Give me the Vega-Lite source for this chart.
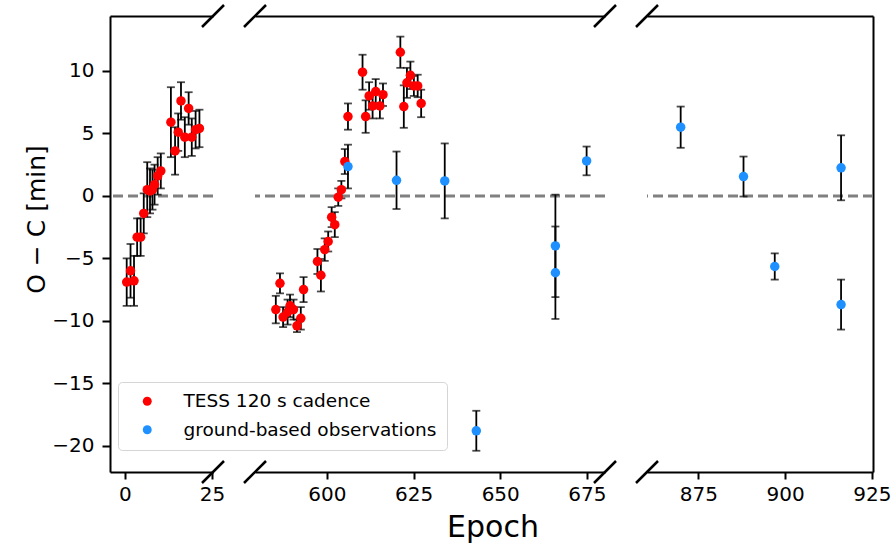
{
  "$schema": "https://vega.github.io/schema/vega-lite/v6.json",
  "padding": {"left": 24, "top": 0, "right": 5, "bottom": 5},
  "autosize": {"type": "pad"},
  "bounds": "flush",
  "spacing": 42,
  "datasets": {
    "p1": [
      {"epoch": 0.5, "oc": -6.9, "err": 1.9, "source": "TESS 120 s cadence"},
      {"epoch": 1.6, "oc": -6.0, "err": 2.15, "source": "TESS 120 s cadence"},
      {"epoch": 2.6, "oc": -6.8, "err": 2.0, "source": "TESS 120 s cadence"},
      {"epoch": 3.5, "oc": -3.3, "err": 1.5, "source": "TESS 120 s cadence"},
      {"epoch": 4.5, "oc": -3.3, "err": 1.5, "source": "TESS 120 s cadence"},
      {"epoch": 5.4, "oc": -1.4, "err": 1.6, "source": "TESS 120 s cadence"},
      {"epoch": 6.4, "oc": 0.5, "err": 2.2, "source": "TESS 120 s cadence"},
      {"epoch": 7.2, "oc": 0.4, "err": 1.8, "source": "TESS 120 s cadence"},
      {"epoch": 7.9, "oc": 0.5, "err": 1.6, "source": "TESS 120 s cadence"},
      {"epoch": 8.5, "oc": 0.9, "err": 1.6, "source": "TESS 120 s cadence"},
      {"epoch": 9.4, "oc": 1.6, "err": 1.5, "source": "TESS 120 s cadence"},
      {"epoch": 10.3, "oc": 2.0, "err": 1.4, "source": "TESS 120 s cadence"},
      {"epoch": 13.2, "oc": 5.9, "err": 2.8, "source": "TESS 120 s cadence"},
      {"epoch": 14.4, "oc": 3.6, "err": 1.9, "source": "TESS 120 s cadence"},
      {"epoch": 15.3, "oc": 5.1, "err": 1.5, "source": "TESS 120 s cadence"},
      {"epoch": 16.1, "oc": 7.6, "err": 1.5, "source": "TESS 120 s cadence"},
      {"epoch": 17.2, "oc": 4.7, "err": 1.6, "source": "TESS 120 s cadence"},
      {"epoch": 18.3, "oc": 7.0, "err": 1.3, "source": "TESS 120 s cadence"},
      {"epoch": 19.2, "oc": 4.7, "err": 1.5, "source": "TESS 120 s cadence"},
      {"epoch": 20.3, "oc": 5.3, "err": 1.5, "source": "TESS 120 s cadence"},
      {"epoch": 21.4, "oc": 5.4, "err": 1.5, "source": "TESS 120 s cadence"}
    ],
    "p2": [
      {"epoch": 585.3, "oc": -9.1, "err": 1.1, "source": "TESS 120 s cadence"},
      {"epoch": 586.5, "oc": -7.0, "err": 0.8, "source": "TESS 120 s cadence"},
      {"epoch": 587.4, "oc": -9.7, "err": 0.8, "source": "TESS 120 s cadence"},
      {"epoch": 588.7, "oc": -9.3, "err": 1.0, "source": "TESS 120 s cadence"},
      {"epoch": 589.4, "oc": -8.8, "err": 0.9, "source": "TESS 120 s cadence"},
      {"epoch": 590.4, "oc": -9.1, "err": 0.8, "source": "TESS 120 s cadence"},
      {"epoch": 591.4, "oc": -10.4, "err": 0.5, "source": "TESS 120 s cadence"},
      {"epoch": 592.5, "oc": -9.8, "err": 0.9, "source": "TESS 120 s cadence"},
      {"epoch": 593.3, "oc": -7.5, "err": 1.0, "source": "TESS 120 s cadence"},
      {"epoch": 597.3, "oc": -5.25, "err": 1.0, "source": "TESS 120 s cadence"},
      {"epoch": 598.3, "oc": -6.35, "err": 1.3, "source": "TESS 120 s cadence"},
      {"epoch": 599.4, "oc": -4.3, "err": 0.9, "source": "TESS 120 s cadence"},
      {"epoch": 600.4, "oc": -3.65, "err": 0.8, "source": "TESS 120 s cadence"},
      {"epoch": 601.4, "oc": -1.7, "err": 0.8, "source": "TESS 120 s cadence"},
      {"epoch": 602.3, "oc": -2.3, "err": 1.0, "source": "TESS 120 s cadence"},
      {"epoch": 603.3, "oc": -0.1, "err": 0.7, "source": "TESS 120 s cadence"},
      {"epoch": 604.2, "oc": 0.5, "err": 0.7, "source": "TESS 120 s cadence"},
      {"epoch": 605.2, "oc": 2.75, "err": 1.0, "source": "TESS 120 s cadence"},
      {"epoch": 606.1, "oc": 6.35, "err": 1.05, "source": "TESS 120 s cadence"},
      {"epoch": 610.3, "oc": 9.9, "err": 1.4, "source": "TESS 120 s cadence"},
      {"epoch": 611.2, "oc": 6.35, "err": 1.3, "source": "TESS 120 s cadence"},
      {"epoch": 612.2, "oc": 8.0, "err": 1.1, "source": "TESS 120 s cadence"},
      {"epoch": 613.2, "oc": 7.2, "err": 1.0, "source": "TESS 120 s cadence"},
      {"epoch": 614.1, "oc": 8.35, "err": 1.0, "source": "TESS 120 s cadence"},
      {"epoch": 615.3, "oc": 7.2, "err": 1.0, "source": "TESS 120 s cadence"},
      {"epoch": 616.2, "oc": 8.1, "err": 0.9, "source": "TESS 120 s cadence"},
      {"epoch": 621.2, "oc": 11.5, "err": 1.25, "source": "TESS 120 s cadence"},
      {"epoch": 622.2, "oc": 7.15, "err": 1.7, "source": "TESS 120 s cadence"},
      {"epoch": 623.1, "oc": 9.05, "err": 1.2, "source": "TESS 120 s cadence"},
      {"epoch": 624.1, "oc": 9.65, "err": 1.1, "source": "TESS 120 s cadence"},
      {"epoch": 625.1, "oc": 8.8, "err": 0.8, "source": "TESS 120 s cadence"},
      {"epoch": 626.2, "oc": 8.8, "err": 0.9, "source": "TESS 120 s cadence"},
      {"epoch": 627.2, "oc": 7.4, "err": 1.1, "source": "TESS 120 s cadence"},
      {"epoch": 606.1, "oc": 2.35, "err": 1.75, "source": "ground-based observations"},
      {"epoch": 620.1, "oc": 1.25, "err": 2.3, "source": "ground-based observations"},
      {"epoch": 634.0, "oc": 1.2, "err": 3.0, "source": "ground-based observations"},
      {"epoch": 643.1, "oc": -18.8, "err": 1.6, "source": "ground-based observations"},
      {"epoch": 665.9, "oc": -4.0, "err": 4.1, "source": "ground-based observations"},
      {"epoch": 665.9, "oc": -6.15, "err": 3.7, "source": "ground-based observations"},
      {"epoch": 674.9, "oc": 2.8, "err": 1.15, "source": "ground-based observations"}
    ],
    "p3": [
      {"epoch": 869.9, "oc": 5.5, "err": 1.65, "source": "ground-based observations"},
      {"epoch": 888.0, "oc": 1.55, "err": 1.6, "source": "ground-based observations"},
      {"epoch": 897.0, "oc": -5.65, "err": 1.05, "source": "ground-based observations"},
      {"epoch": 916.1, "oc": 2.25, "err": 2.6, "source": "ground-based observations"},
      {"epoch": 916.1, "oc": -8.7, "err": 2.0, "source": "ground-based observations"}
    ]
  },
  "hconcat": [
    {
      "width": 103,
      "height": 456,
      "resolve": {"axis": {"x": "independent"}},
      "layer": [
        {
          "data": {"values": [{}]},
          "mark": {"type": "rule", "color": "#808080", "strokeDash": [10, 5], "strokeWidth": 3},
          "encoding": {
            "y": {"datum": 0, "type": "quantitative", "scale": {"domain": [-22.1, 14.4], "nice": false, "zero": false}, "axis": {"orient": "left", "values": [-20, -15, -10, -5, 0, 5, 10], "title": "O − C [min]", "titlePadding": 2, "titleY": 203}}
          }
        },
        {
          "data": {"name": "p1"},
          "mark": {"type": "errorbar", "ticks": {"size": 8}, "color": "black", "thickness": 1.8},
          "encoding": {
            "x": {"field": "epoch", "type": "quantitative", "scale": {"domain": [-4.3, 25.3], "nice": false, "zero": false}, "axis": {"orient": "top", "labels": false, "ticks": false, "title": null, "domain": true}},
            "y": {"field": "oc", "type": "quantitative", "scale": {"domain": [-22.1, 14.4], "nice": false, "zero": false}, "axis": {"orient": "left", "values": [-20, -15, -10, -5, 0, 5, 10], "title": "O − C [min]", "titlePadding": 2, "titleY": 203}},
            "yError": {"field": "err"}
          }
        },
        {
          "data": {"name": "p1"},
          "mark": {"type": "point", "filled": true, "size": 90, "opacity": 1},
          "encoding": {
            "x": {"field": "epoch", "type": "quantitative", "scale": {"domain": [-4.3, 25.3], "nice": false, "zero": false}, "axis": {"orient": "bottom", "values": [0, 25], "title": null, "labelFlush": false, "labelOverlap": false, "labelPadding": 5, "tickSize": 7}},
            "y": {"field": "oc", "type": "quantitative", "scale": {"domain": [-22.1, 14.4], "nice": false, "zero": false}, "axis": {"orient": "left", "values": [-20, -15, -10, -5, 0, 5, 10], "title": "O − C [min]", "titlePadding": 2, "titleY": 203}},
            "color": {"field": "source", "type": "nominal", "scale": {"domain": ["TESS 120 s cadence", "ground-based observations"], "range": ["#ff0000", "#1e90ff"]}, "legend": {"orient": "none", "legendX": 8, "legendY": 366, "title": null}}
          }
        },
        {
          "data": {"values": [{}]},
          "mark": {"type": "point", "shape": "M-1,1L1,-1", "size": 484, "filled": false, "stroke": "black", "strokeWidth": 2.5, "opacity": 1},
          "encoding": {
            "x": {"datum": 25.3, "type": "quantitative", "scale": {"domain": [-4.3, 25.3], "nice": false, "zero": false}, "axis": null},
            "y": {"datum": 14.4, "type": "quantitative", "scale": {"domain": [-22.1, 14.4], "nice": false, "zero": false}, "axis": {"orient": "left", "values": [-20, -15, -10, -5, 0, 5, 10], "title": "O − C [min]", "titlePadding": 2, "titleY": 203}}
          }
        },
        {
          "data": {"values": [{}]},
          "mark": {"type": "point", "shape": "M-1,1L1,-1", "size": 484, "filled": false, "stroke": "black", "strokeWidth": 2.5, "opacity": 1},
          "encoding": {
            "x": {"datum": 25.3, "type": "quantitative", "scale": {"domain": [-4.3, 25.3], "nice": false, "zero": false}, "axis": null},
            "y": {"datum": -22.1, "type": "quantitative", "scale": {"domain": [-22.1, 14.4], "nice": false, "zero": false}, "axis": {"orient": "left", "values": [-20, -15, -10, -5, 0, 5, 10], "title": "O − C [min]", "titlePadding": 2, "titleY": 203}}
          }
        }
      ]
    },
    {
      "width": 350,
      "height": 456,
      "resolve": {"axis": {"x": "independent"}},
      "layer": [
        {
          "data": {"values": [{}]},
          "mark": {"type": "rule", "color": "#808080", "strokeDash": [10, 5], "strokeWidth": 3},
          "encoding": {
            "y": {"datum": 0, "type": "quantitative", "scale": {"domain": [-22.1, 14.4], "nice": false, "zero": false}, "axis": null}
          }
        },
        {
          "data": {"name": "p2"},
          "mark": {"type": "errorbar", "ticks": {"size": 8}, "color": "black", "thickness": 1.8},
          "encoding": {
            "x": {"field": "epoch", "type": "quantitative", "scale": {"domain": [579.3, 680.2], "nice": false, "zero": false}, "axis": {"orient": "top", "labels": false, "ticks": false, "title": null, "domain": true}},
            "y": {"field": "oc", "type": "quantitative", "scale": {"domain": [-22.1, 14.4], "nice": false, "zero": false}, "axis": null},
            "yError": {"field": "err"}
          }
        },
        {
          "data": {"name": "p2"},
          "mark": {"type": "point", "filled": true, "size": 90, "opacity": 1},
          "encoding": {
            "x": {"field": "epoch", "type": "quantitative", "scale": {"domain": [579.3, 680.2], "nice": false, "zero": false}, "axis": {"orient": "bottom", "values": [600, 625, 650, 675], "title": "Epoch", "titleX": 237.5, "titleAlign": "center", "titlePadding": 8, "titleFontSize": 30, "labelFlush": false, "labelOverlap": false, "labelPadding": 5, "tickSize": 7}},
            "y": {"field": "oc", "type": "quantitative", "scale": {"domain": [-22.1, 14.4], "nice": false, "zero": false}, "axis": null},
            "color": {"field": "source", "type": "nominal", "scale": {"domain": ["TESS 120 s cadence", "ground-based observations"], "range": ["#ff0000", "#1e90ff"]}, "legend": {"orient": "none", "legendX": 8, "legendY": 366, "title": null}}
          }
        },
        {
          "data": {"values": [{}]},
          "mark": {"type": "point", "shape": "M-1,1L1,-1", "size": 484, "filled": false, "stroke": "black", "strokeWidth": 2.5, "opacity": 1},
          "encoding": {
            "x": {"datum": 579.3, "type": "quantitative", "scale": {"domain": [579.3, 680.2], "nice": false, "zero": false}, "axis": null},
            "y": {"datum": 14.4, "type": "quantitative", "scale": {"domain": [-22.1, 14.4], "nice": false, "zero": false}, "axis": null}
          }
        },
        {
          "data": {"values": [{}]},
          "mark": {"type": "point", "shape": "M-1,1L1,-1", "size": 484, "filled": false, "stroke": "black", "strokeWidth": 2.5, "opacity": 1},
          "encoding": {
            "x": {"datum": 579.3, "type": "quantitative", "scale": {"domain": [579.3, 680.2], "nice": false, "zero": false}, "axis": null},
            "y": {"datum": -22.1, "type": "quantitative", "scale": {"domain": [-22.1, 14.4], "nice": false, "zero": false}, "axis": null}
          }
        },
        {
          "data": {"values": [{}]},
          "mark": {"type": "point", "shape": "M-1,1L1,-1", "size": 484, "filled": false, "stroke": "black", "strokeWidth": 2.5, "opacity": 1},
          "encoding": {
            "x": {"datum": 680.2, "type": "quantitative", "scale": {"domain": [579.3, 680.2], "nice": false, "zero": false}, "axis": null},
            "y": {"datum": 14.4, "type": "quantitative", "scale": {"domain": [-22.1, 14.4], "nice": false, "zero": false}, "axis": null}
          }
        },
        {
          "data": {"values": [{}]},
          "mark": {"type": "point", "shape": "M-1,1L1,-1", "size": 484, "filled": false, "stroke": "black", "strokeWidth": 2.5, "opacity": 1},
          "encoding": {
            "x": {"datum": 680.2, "type": "quantitative", "scale": {"domain": [579.3, 680.2], "nice": false, "zero": false}, "axis": null},
            "y": {"datum": -22.1, "type": "quantitative", "scale": {"domain": [-22.1, 14.4], "nice": false, "zero": false}, "axis": null}
          }
        }
      ]
    },
    {
      "width": 226,
      "height": 456,
      "resolve": {"axis": {"x": "independent"}},
      "layer": [
        {
          "data": {"values": [{}]},
          "mark": {"type": "rule", "color": "#808080", "strokeDash": [10, 5], "strokeWidth": 3},
          "encoding": {
            "y": {"datum": 0, "type": "quantitative", "scale": {"domain": [-22.1, 14.4], "nice": false, "zero": false}, "axis": {"orient": "right", "labels": false, "ticks": false, "title": null, "domain": true}}
          }
        },
        {
          "data": {"name": "p3"},
          "mark": {"type": "errorbar", "ticks": {"size": 8}, "color": "black", "thickness": 1.8},
          "encoding": {
            "x": {"field": "epoch", "type": "quantitative", "scale": {"domain": [860.2, 925.3], "nice": false, "zero": false}, "axis": {"orient": "top", "labels": false, "ticks": false, "title": null, "domain": true}},
            "y": {"field": "oc", "type": "quantitative", "scale": {"domain": [-22.1, 14.4], "nice": false, "zero": false}, "axis": {"orient": "right", "labels": false, "ticks": false, "title": null, "domain": true}},
            "yError": {"field": "err"}
          }
        },
        {
          "data": {"name": "p3"},
          "mark": {"type": "point", "filled": true, "size": 90, "opacity": 1},
          "encoding": {
            "x": {"field": "epoch", "type": "quantitative", "scale": {"domain": [860.2, 925.3], "nice": false, "zero": false}, "axis": {"orient": "bottom", "values": [875, 900, 925], "title": null, "labelFlush": false, "labelOverlap": false, "labelPadding": 5, "tickSize": 7}},
            "y": {"field": "oc", "type": "quantitative", "scale": {"domain": [-22.1, 14.4], "nice": false, "zero": false}, "axis": {"orient": "right", "labels": false, "ticks": false, "title": null, "domain": true}},
            "color": {"field": "source", "type": "nominal", "scale": {"domain": ["TESS 120 s cadence", "ground-based observations"], "range": ["#ff0000", "#1e90ff"]}, "legend": {"orient": "none", "legendX": 8, "legendY": 366, "title": null}}
          }
        },
        {
          "data": {"values": [{}]},
          "mark": {"type": "point", "shape": "M-1,1L1,-1", "size": 484, "filled": false, "stroke": "black", "strokeWidth": 2.5, "opacity": 1},
          "encoding": {
            "x": {"datum": 860.2, "type": "quantitative", "scale": {"domain": [860.2, 925.3], "nice": false, "zero": false}, "axis": null},
            "y": {"datum": 14.4, "type": "quantitative", "scale": {"domain": [-22.1, 14.4], "nice": false, "zero": false}, "axis": {"orient": "right", "labels": false, "ticks": false, "title": null, "domain": true}}
          }
        },
        {
          "data": {"values": [{}]},
          "mark": {"type": "point", "shape": "M-1,1L1,-1", "size": 484, "filled": false, "stroke": "black", "strokeWidth": 2.5, "opacity": 1},
          "encoding": {
            "x": {"datum": 860.2, "type": "quantitative", "scale": {"domain": [860.2, 925.3], "nice": false, "zero": false}, "axis": null},
            "y": {"datum": -22.1, "type": "quantitative", "scale": {"domain": [-22.1, 14.4], "nice": false, "zero": false}, "axis": {"orient": "right", "labels": false, "ticks": false, "title": null, "domain": true}}
          }
        }
      ]
    }
  ],
  "config": {
    "font": "DejaVu Sans",
    "view": {"stroke": null},
    "axis": {
      "grid": false,
      "domainColor": "black",
      "domainWidth": 2,
      "tickColor": "black",
      "tickWidth": 2,
      "tickSize": 8,
      "labelFont": "DejaVu Sans",
      "labelFontSize": 20,
      "labelColor": "black",
      "labelPadding": 8,
      "titleFont": "DejaVu Sans",
      "titleFontSize": 25,
      "titleFontWeight": "normal",
      "titleColor": "black"
    },
    "legend": {
      "labelFont": "DejaVu Sans",
      "labelFontSize": 18.5,
      "labelColor": "black",
      "labelLimit": 0,
      "symbolType": "circle",
      "symbolSize": 80,
      "symbolStrokeWidth": 0,
      "fillColor": "white",
      "strokeColor": "#d5d5d5",
      "cornerRadius": 4,
      "padding": 10,
      "rowPadding": 9.5,
      "symbolOffset": 10,
      "labelOffset": 27
    }
  }
}
